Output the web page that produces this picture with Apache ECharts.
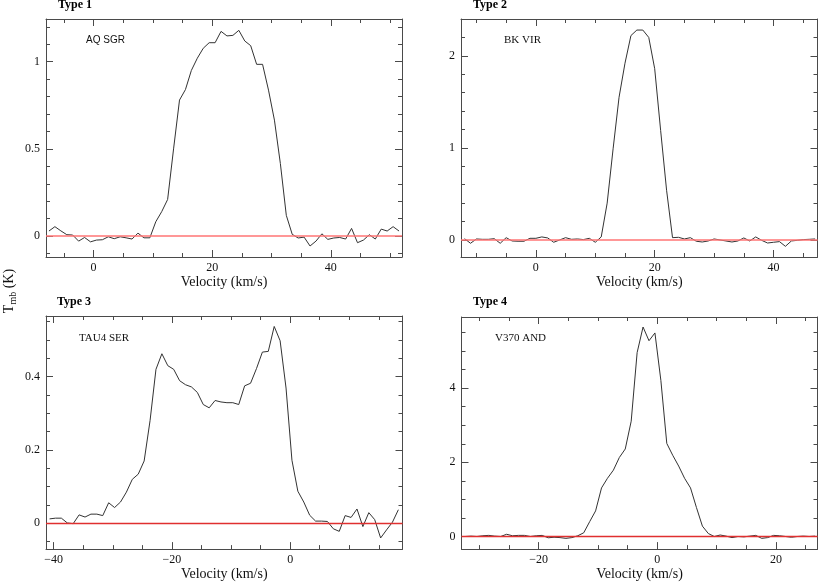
<!DOCTYPE html>
<html>
<head>
<meta charset="utf-8">
<script src="https://cdn.jsdelivr.net/npm/echarts@6/dist/echarts.min.js"></script>
<style>
html,body{margin:0;padding:0;background:#fff;}
#chart{width:818px;height:582px;}
</style>
</head>
<body>
<div id="chart"></div>
<script>
// ---------- Panel 1 : Type 1, AQ SGR ----------
const p1Velocity = [-7.5,-6.5,-5.5,-4.5,-3.5,-2.5,-1.5,-0.5,0.5,1.5,2.5,3.5,4.5,5.5,6.5,7.5,8.5,9.5,10.5,11.5,12.5,13.5,14.5,15.5,16.5,17.5,18.5,19.5,20.5,21.5,22.5,23.5,24.5,25.5,26.5,27.5,28.5,29.5,30.5,31.5,32.5,33.5,34.5,35.5,36.5,37.5,38.5,39.5,40.5,41.5,42.5,43.5,44.5,45.5,46.5,47.5,48.5,49.5,50.5,51.5];
const p1Tmb = [0.029,0.054,0.03,0.008,0.006,-0.029,-0.008,-0.033,-0.023,-0.021,-0.004,-0.015,-0.004,-0.01,-0.017,0.017,-0.01,-0.01,0.082,0.14,0.21,0.5,0.78,0.84,0.95,1.02,1.077,1.109,1.109,1.174,1.148,1.151,1.18,1.119,1.092,0.985,0.985,0.837,0.665,0.416,0.119,0.01,-0.011,-0.006,-0.057,-0.029,0.013,-0.019,-0.011,-0.008,-0.017,0.044,-0.038,-0.023,0.008,-0.017,0.04,0.029,0.054,0.029];
const p1XTicks = [0,20,40];
const p1YTicks = [0,0.5,1];

// ---------- Panel 2 : Type 2, BK VIR ----------
const p2Velocity = [-12,-11,-10,-9,-8,-7,-6,-5,-4,-3,-2,-1,0,1,2,3,4,5,6,7,8,9,10,11,12,13,14,15,16,17,18,19,20,21,22,23,24,25,26,27,28,29,30,31,32,33,34,35,36,37,38,39,40,41,42,43,44,45,46,47];
const p2Tmb = [0.014,-0.036,0.011,0.007,0.007,0.014,-0.036,0.025,-0.011,-0.014,-0.014,0.018,0.018,0.033,0.022,-0.025,0,0.025,0.007,0.011,0.004,0.018,-0.025,0.033,0.40,0.99,1.55,1.92,2.22,2.28,2.28,2.20,1.86,1.19,0.54,0.025,0.029,0.011,0.025,-0.014,-0.022,-0.011,0.011,0,-0.011,-0.022,-0.011,0.022,-0.011,0.033,-0.004,-0.033,-0.025,-0.018,-0.069,-0.011,-0.004,0.004,0.007,0.011];
const p2XTicks = [0,20,40];
const p2YTicks = [0,1,2];

// ---------- Panel 3 : Type 3, TAU4 SER ----------
const p3Velocity = [-40.7,-39.7,-38.7,-37.7,-36.7,-35.7,-34.7,-33.7,-32.7,-31.7,-30.7,-29.7,-28.7,-27.7,-26.7,-25.7,-24.7,-23.7,-22.7,-21.7,-20.7,-19.7,-18.7,-17.7,-16.7,-15.7,-14.7,-13.7,-12.7,-11.7,-10.7,-9.7,-8.7,-7.7,-6.7,-5.7,-4.7,-3.7,-2.7,-1.7,-0.7,0.3,1.3,2.3,3.3,4.3,5.3,6.3,7.3,8.3,9.3,10.3,11.3,12.3,13.3,14.3,15.3,16.3,17.3,18.3];
const p3Tmb = [0.012,0.014,0.014,0.001,-0.001,0.023,0.017,0.025,0.025,0.021,0.056,0.043,0.058,0.085,0.12,0.134,0.17,0.28,0.42,0.4625,0.43,0.42,0.389,0.378,0.372,0.357,0.324,0.315,0.335,0.331,0.329,0.329,0.324,0.375,0.382,0.422,0.467,0.469,0.537,0.498,0.369,0.172,0.0875,0.058,0.022,0.006,0.006,0.005,-0.015,-0.022,0.021,0.016,0.039,-0.009,0.029,0.01,-0.04,-0.018,0.003,0.037];
const p3XTicks = [-40,-20,0];
const p3YTicks = [0,0.2,0.4];

// ---------- Panel 4 : Type 4, V370 AND ----------
const p4Velocity = [-32.4,-31.4,-30.4,-29.4,-28.4,-27.4,-26.4,-25.4,-24.4,-23.4,-22.4,-21.4,-20.4,-19.4,-18.4,-17.4,-16.4,-15.4,-14.4,-13.4,-12.4,-11.4,-10.4,-9.4,-8.4,-7.4,-6.4,-5.4,-4.4,-3.4,-2.4,-1.4,-0.4,0.6,1.6,2.6,3.6,4.6,5.6,6.6,7.6,8.6,9.6,10.6,11.6,12.6,13.6,14.6,15.6,16.6,17.6,18.6,19.6,20.6,21.6,22.6,23.6,24.6,25.6,26.6];
const p4Tmb = [0.0,0.01,0.0,0.02,0.03,0.01,0.0,0.06,0.02,0.03,0.03,0.0,0.02,0.03,-0.035,-0.02,-0.03,-0.05,-0.03,0.02,0.1,0.40,0.69,1.31,1.57,1.79,2.13,2.36,3.11,4.96,5.65,5.28,5.49,4.21,2.51,2.19,1.9,1.57,1.31,0.78,0.28,0.08,0.0,0.04,0.01,-0.03,0.0,-0.01,0.01,0.03,-0.05,-0.03,0.03,0.02,0.0,-0.02,0.0,0.01,0.0,0.01];
const p4XTicks = [-20,0,20];
const p4YTicks = [0,2,4];

const titles = ['Type 1','Type 2','Type 3','Type 4'];
const stars = ['AQ SGR','BK VIR','TAU4 SER','V370 AND'];

const panels = [
  {vel:p1Velocity, tmb:p1Tmb, xt:p1XTicks, yt:p1YTicks, xMin:-8, xMax:52, yMin:-0.12, yMax:1.245, xStep:5, yStep:0.1,
   grid:{left:46, top:19, width:356, height:238}, zero:'#ff7474', zeroW:1.5,
   title:[58,5], star:[86,40], starFont:'Liberation Sans', starSize:10},
  {vel:p2Velocity, tmb:p2Tmb, xt:p2XTicks, yt:p2YTicks, xMin:-12.6, xMax:47.4, yMin:-0.185, yMax:2.40, xStep:5, yStep:0.2,
   grid:{left:461, top:19, width:356.5, height:238}, zero:'#ff7474', zeroW:1.5,
   title:[473,5], star:[504,40], starFont:'Liberation Serif', starSize:11},
  {vel:p3Velocity, tmb:p3Tmb, xt:p3XTicks, yt:p3YTicks, xMin:-41.3, xMax:19.0, yMin:-0.0704, yMax:0.5655, xStep:5, yStep:0.05,
   grid:{left:46, top:316, width:356.5, height:238}, zero:'#e03030', zeroW:1.3,
   title:[57,302], star:[79,338], starFont:'Liberation Serif', starSize:11},
  {vel:p4Velocity, tmb:p4Tmb, xt:p4XTicks, yt:p4YTicks, xMin:-33, xMax:27, yMin:-0.34, yMax:5.92, xStep:5, yStep:0.5,
   grid:{left:461.5, top:317, width:356, height:237}, zero:'#e03030', zeroW:1.3,
   title:[473,302], star:[495,338], starFont:'Liberation Serif', starSize:11}
];

function minorValues(min, max, step) {
  const out = [];
  const start = Math.ceil(min / step - 1e-9);
  for (let k = start; k * step < max - 1e-9; k++) {
    const v = +(k * step).toFixed(6);
    if (v > min + 1e-9) out.push(v);
  }
  return out;
}

const AXIS_COLOR = '#4a4a4a';
const fmt = v => String(+v.toFixed(4)).replace('-', '\u2212');
const lineOn = () => ({show:true, onZero:false, lineStyle:{color:AXIS_COLOR, width:1}});
const lineOff = () => ({show:false, onZero:false});

const grids = [], xAxes = [], yAxes = [], series = [], graphics = [];

panels.forEach((p, i) => {
  grids.push(Object.assign({containLabel:false}, p.grid));
  const xMinor = minorValues(p.xMin, p.xMax, p.xStep);
  const yMinor = minorValues(p.yMin, p.yMax, p.yStep);
  const xBase = {type:'value', gridIndex:i, min:p.xMin, max:p.xMax, splitLine:{show:false}};
  const yBase = {type:'value', gridIndex:i, min:p.yMin, max:p.yMax, splitLine:{show:false}};
  const xStart = xAxes.length, yStart = yAxes.length;
  const tick = (vals, len) => ({show:true, inside:true, length:len, customValues:vals, lineStyle:{color:AXIS_COLOR, width:1}});
  xAxes.push(Object.assign({}, xBase, {position:'bottom', axisLine:lineOn(),
    name:'Velocity (km/s)', nameLocation:'middle', nameGap:15,
    nameTextStyle:{fontFamily:'Liberation Serif', fontSize:14, color:'#111'},
    axisTick:tick(p.xt, 7),
    axisLabel:{show:true, customValues:p.xt, margin:5, formatter:fmt, fontFamily:'Liberation Serif', fontSize:12, color:'#111'}}));
  xAxes.push(Object.assign({}, xBase, {position:'top', axisLine:lineOn(), axisTick:tick(p.xt, 7), axisLabel:{show:false}}));
  xAxes.push(Object.assign({}, xBase, {position:'bottom', axisLine:lineOff(), axisTick:tick(xMinor, 4), axisLabel:{show:false}}));
  xAxes.push(Object.assign({}, xBase, {position:'top', axisLine:lineOff(), axisTick:tick(xMinor, 4), axisLabel:{show:false}}));

  yAxes.push(Object.assign({}, yBase, {position:'left', axisLine:lineOn(),
    axisTick:tick(p.yt, 7),
    axisLabel:{show:true, customValues:p.yt, margin:6, formatter:fmt, fontFamily:'Liberation Serif', fontSize:12, color:'#111'}}));
  yAxes.push(Object.assign({}, yBase, {position:'right', axisLine:lineOn(), axisTick:tick(p.yt, 7), axisLabel:{show:false}}));
  yAxes.push(Object.assign({}, yBase, {position:'left', axisLine:lineOff(), axisTick:tick(yMinor, 4), axisLabel:{show:false}}));
  yAxes.push(Object.assign({}, yBase, {position:'right', axisLine:lineOff(), axisTick:tick(yMinor, 4), axisLabel:{show:false}}));

  series.push({
    type:'line', xAxisIndex:xStart, yAxisIndex:yStart,
    data:p.vel.map((v, k) => [v, p.tmb[k]]),
    showSymbol:false, symbol:'none', animation:false, silent:true,
    lineStyle:{color:'#333333', width:1},
    markLine:{silent:true, symbol:'none', animation:false, label:{show:false},
      lineStyle:{color:p.zero, width:p.zeroW, type:'solid', opacity:1},
      data:[{yAxis:0}]},
    z:3
  });

  graphics.push({type:'text', x:p.title[0], y:p.title[1],
    style:{text:titles[i], font:'bold 12px "Liberation Serif"', fill:'#000', verticalAlign:'middle', align:'left'}});
  graphics.push({type:'text', x:p.star[0], y:p.star[1],
    style:{text:stars[i], fontFamily:p.starFont, fontSize:p.starSize, fill:'#111', verticalAlign:'middle', align:'left'}});
});

graphics.push({type:'text', x:9, y:291, rotation:Math.PI/2,
  style:{text:'{a|T}{b|mb}{a| (K)}', align:'center', verticalAlign:'middle',
    rich:{a:{fontFamily:'Liberation Serif', fontSize:14, fill:'#111', lineHeight:18},
          b:{fontFamily:'Liberation Serif', fontSize:10, fill:'#111', lineHeight:18, padding:[8,0,0,0]}}}});

const chart = echarts.init(document.getElementById('chart'), null, {renderer:'canvas'});
chart.setOption({
  animation:false,
  backgroundColor:'#ffffff',
  grid:grids, xAxis:xAxes, yAxis:yAxes, series:series, graphic:graphics
});
</script>
</body>
</html>
